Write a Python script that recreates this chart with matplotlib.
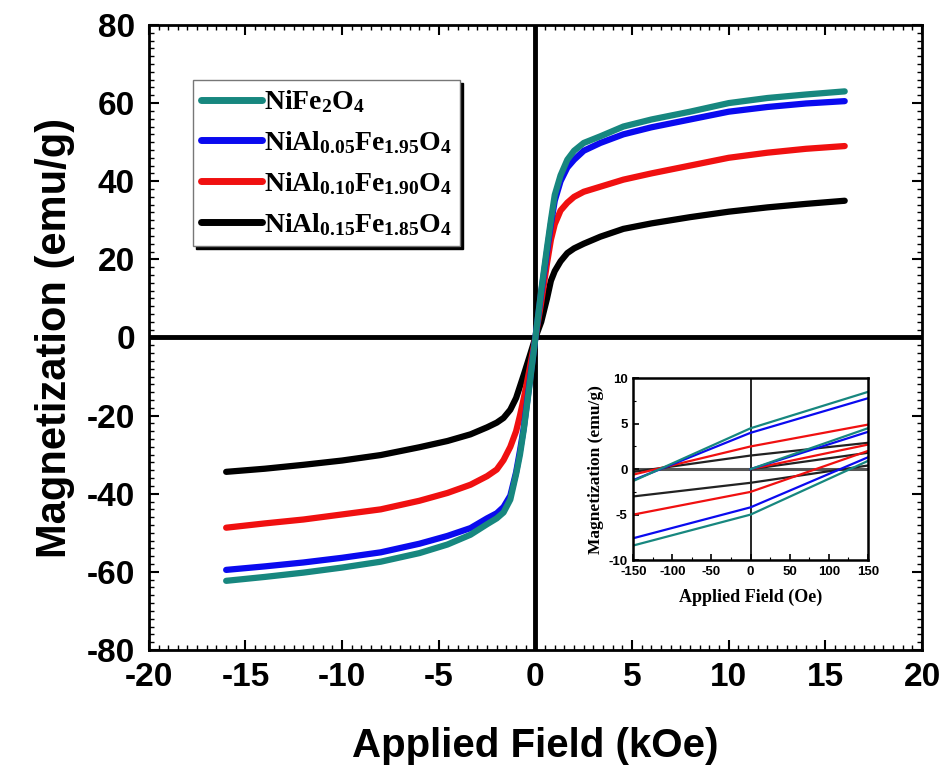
import matplotlib
matplotlib.use("Agg")
import matplotlib.pyplot as plt
from matplotlib.ticker import MultipleLocator

plt.rcParams['font.family'] = ['Liberation Sans', 'DejaVu Sans']
plt.rcParams['mathtext.fontset'] = 'custom'
plt.rcParams['mathtext.rm'] = 'Liberation Serif:bold'
plt.rcParams['mathtext.bf'] = 'Liberation Serif:bold'
plt.rcParams['mathtext.it'] = 'Liberation Serif:bold'

# ---------------- main data (kOe, emu/g) ----------------
field_koe = [-16, -14, -12, -10, -8, -6, -4.55, -3.36, -2.5, -2, -1.65, -1.3, -1.0, -0.8, -0.6, -0.3, 0,
             0.3, 0.6, 0.8, 1.0, 1.3, 1.65, 2, 2.5, 3.36, 4.55, 6, 8, 10, 12, 14, 16]
m_nife2o4 = [-62.3, -61.3, -60.2, -58.9, -57.4, -55.2, -53.0, -50.5, -47.8, -46.3, -44.8, -41.5, -35.0, -30.0, -23.5, -12.0, 0,
             12.0, 23.0, 30.0, 36.5, 41.5, 45.5, 47.8, 49.8, 51.5, 54.0, 55.8, 57.8, 60.0, 61.3, 62.2, 63.0]
m_al005 = [-59.5, -58.6, -57.6, -56.4, -55.0, -52.8, -50.8, -48.8, -46.3, -45.0, -43.4, -40.5, -34.5, -29.0, -23.0, -11.5, 0,
           11.5, 22.0, 29.0, 35.0, 40.0, 43.5, 45.5, 47.8, 49.8, 52.0, 53.8, 55.8, 57.8, 59.0, 59.9, 60.5]
m_al010 = [-48.7, -47.6, -46.6, -45.3, -44.0, -41.8, -39.8, -37.7, -35.5, -33.8, -31.4, -28.0, -24.0, -20.0, -15.5, -8.0, 0,
           9.0, 19.0, 25.0, 29.0, 32.5, 34.5, 36.0, 37.3, 38.6, 40.4, 42.0, 44.0, 46.0, 47.3, 48.3, 49.0]
m_al015 = [-34.4, -33.6, -32.6, -31.5, -30.1, -28.1, -26.5, -24.8, -23.0, -21.8, -20.6, -18.5, -15.5, -12.5, -9.5, -4.8, 0,
           4.0, 10.0, 14.5, 17.0, 19.5, 21.6, 22.8, 24.0, 25.8, 27.8, 29.2, 30.8, 32.2, 33.3, 34.2, 35.0]

labels = [r'$\mathbf{NiFe_2O_4}$',
          r'$\mathbf{NiAl_{0.05}Fe_{1.95}O_4}$',
          r'$\mathbf{NiAl_{0.10}Fe_{1.90}O_4}$',
          r'$\mathbf{NiAl_{0.15}Fe_{1.85}O_4}$']
colors = ['#17877f', '#0a0aef', '#f01010', '#000000']

x_ticks = [-20, -15, -10, -5, 0, 5, 10, 15, 20]
y_ticks = [-80, -60, -40, -20, 0, 20, 40, 60, 80]

# ---------------- inset data (Oe, emu/g) ----------------
inset_field = [-150, 0, 150]
virgin_field = [0, 150]
up_nife2o4 = [-1.3, 4.5, 8.5]
lo_nife2o4 = [-8.4, -5.0, 0.9]
vi_nife2o4 = [0, 4.5]
up_al005 = [-1.2, 4.0, 7.8]
lo_al005 = [-7.6, -4.2, 1.3]
vi_al005 = [0, 4.1]
up_al010 = [-0.6, 2.5, 4.9]
lo_al010 = [-5.0, -2.5, 2.0]
vi_al010 = [0, 2.7]
up_al015 = [-0.3, 1.5, 2.9]
lo_al015 = [-3.0, -1.5, 0.4]
vi_al015 = [0, 1.8]
inset_xticks = [-150, -100, -50, 0, 50, 100, 150]
inset_yticks = [-10, -5, 0, 5, 10]

fig = plt.figure(figsize=(9.48, 7.8), dpi=100)
ax = fig.add_axes([0.157, 0.1667, 0.8156, 0.8013])

ax.axhline(0, color='k', lw=3.5, zorder=1)
ax.axvline(0, color='k', lw=3.5, zorder=1)

series = [m_nife2o4, m_al005, m_al010, m_al015]
handles = []
for i in [3, 2, 1, 0]:
    h, = ax.plot(field_koe, series[i], color=colors[i], lw=4.5,
                 solid_capstyle='round', solid_joinstyle='round',
                 label=labels[i], zorder=2 + (3 - i))
    handles.append(h)
handles = handles[::-1]

ax.set_xlim(-20, 20)
ax.set_ylim(-80, 80)
ax.set_xticks(x_ticks)
ax.set_yticks(y_ticks)
ax.set_xticklabels([str(v) for v in x_ticks])
ax.set_yticklabels([str(v) for v in y_ticks])
ax.xaxis.set_minor_locator(MultipleLocator(0.5))
ax.yaxis.set_minor_locator(MultipleLocator(2))
ax.tick_params(which='both', direction='in', top=True, right=True)
ax.tick_params(which='major', length=7, width=1.5, labelsize=24)
ax.tick_params(axis='x', which='major', pad=9)
ax.tick_params(axis='y', which='major', pad=10)
ax.tick_params(which='minor', length=3.5, width=1.0)
for lab in ax.get_xticklabels() + ax.get_yticklabels():
    lab.set_fontweight('bold')
for sp in ax.spines.values():
    sp.set_linewidth(2)

ax.set_xlabel('Applied Field (kOe)', fontsize=29, fontweight='bold', labelpad=24)
ax.set_ylabel('Magnetization (emu/g)', fontsize=30, fontweight='bold', labelpad=8)

leg = ax.legend(handles=handles, labels=labels, loc='upper left',
                bbox_to_anchor=(193 / 948, 1 - 80 / 780), bbox_transform=fig.transFigure,
                fontsize=20, handlelength=2.2, handletextpad=0.05, labelspacing=0.5,
                borderpad=0.3, borderaxespad=0, fancybox=False,
                shadow={'color': 'black', 'alpha': 1.0}, framealpha=1)
leg.get_frame().set_edgecolor('#777777')
leg.get_frame().set_linewidth(1.0)
for line in leg.get_lines():
    line.set_linewidth(5)

# ---------------- inset ----------------
ins = fig.add_axes([0.668, 0.282, 0.2474, 0.233])
ins.axhline(0, color='#555555', lw=2.2, zorder=1)
ins.axvline(0, color='k', lw=1.2, zorder=1)
inset_sets = [(up_nife2o4, lo_nife2o4, vi_nife2o4),
              (up_al005, lo_al005, vi_al005),
              (up_al010, lo_al010, vi_al010),
              (up_al015, lo_al015, vi_al015)]
for i in [3, 2, 1, 0]:
    up, lo, vi = inset_sets[i]
    c = colors[i] if i != 3 else '#222222'
    ins.plot(inset_field, up, color=c, lw=1.6, zorder=2)
    ins.plot(inset_field, lo, color=c, lw=1.6, zorder=2)
    ins.plot(virgin_field, vi, color=c, lw=1.6, zorder=2)
ins.set_xlim(-150, 150)
ins.set_ylim(-10, 10)
ins.set_xticks(inset_xticks)
ins.set_yticks(inset_yticks)
ins.set_xticklabels([str(v) for v in inset_xticks])
ins.set_yticklabels([str(v) for v in inset_yticks])
ins.xaxis.set_minor_locator(MultipleLocator(25))
ins.yaxis.set_minor_locator(MultipleLocator(2.5))
ins.tick_params(which='both', direction='in')
ins.tick_params(which='major', length=4, width=1.2, labelsize=9.5)
ins.tick_params(axis='x', which='major', pad=4)
ins.tick_params(axis='y', which='major', pad=4)
ins.tick_params(which='minor', length=2, width=0.8)
for lab in ins.get_xticklabels() + ins.get_yticklabels():
    lab.set_fontweight('bold')
for sp in ins.spines.values():
    sp.set_linewidth(1.8)
ins.set_xlabel('Applied Field (Oe)', fontsize=13, fontweight='bold',
               family=['Liberation Serif', 'DejaVu Serif'], labelpad=8)
ins.set_ylabel('Magnetization (emu/g)', fontsize=12.5, fontweight='bold',
               family=['Liberation Serif', 'DejaVu Serif'], labelpad=3)

fig.savefig('out.png', dpi=100)
